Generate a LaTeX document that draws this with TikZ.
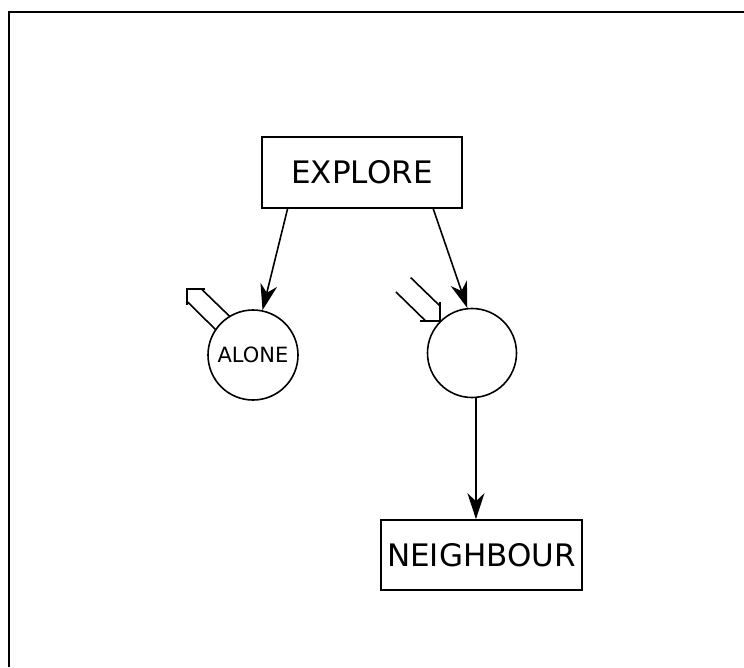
\documentclass[tikz,border=0pt]{standalone}
\usepackage{fontspec}
\setmainfont{DejaVu Sans}
\usetikzlibrary{arrows.meta}
\begin{document}
\begin{tikzpicture}[x=1pt,y=-1pt,
  line width=1.6pt,
  boxnode/.style={draw,rectangle,inner sep=0pt,font=\fontsize{31}{36}\selectfont},
  statenode/.style={draw,circle,inner sep=0pt,font=\fontsize{21}{24}\selectfont},
  conn/.style={-{Stealth[length=26pt,width=17pt,inset=8pt]},line width=1.6pt},
  hollow/.style={line width=1.6pt}]
\useasboundingbox (0,0) rectangle (744,667);
\draw[line width=2pt] (9,667) -- (9,11.5) -- (744,11.5);
\node[boxnode,minimum width=200pt,minimum height=71pt] (explore) at (362,172.5) {EXPLORE};
\node[statenode,minimum size=90pt] (alone) at (253,355) {ALONE};
\node[statenode,minimum size=89pt] (c) at (472,353) {};
\node[boxnode,minimum width=201pt,minimum height=70pt] (nb) at (481.5,555) {NEIGHBOUR};
\draw[conn] (explore.206.9) -- (alone.78.4);
\draw[conn] (explore.333.1) -- (c.96.5);
\draw[conn] (c.-85) -- (c.-85 |- nb.north);
% outgoing hollow arrow on ALONE
\coordinate (p) at (alone.135);
\draw[hollow] ([shift={(8.8,-6.5)}]p) -- ([shift={(-19.5,-33.9)}]p);
\draw[hollow] ([shift={(-15.2,-33.9)}]p) -- ([shift={(-33.9,-33.9)}]p) -- ([shift={(-33.9,-17.2)}]p);
\draw[hollow] ([shift={(-33.9,-21.5)}]p) -- ([shift={(-5.2,6.8)}]p);
% incoming hollow arrow on the empty state
\coordinate (q) at (c.135);
\draw[hollow] ([shift={(0,-19)}]q) -- (q) -- ([shift={(-20,0)}]q);
\draw[hollow] ([shift={(-29.3,-43.4)}]q) -- ([shift={(-0.7,-15.7)}]q);
\draw[hollow] ([shift={(-44,-29)}]q) -- ([shift={(-15,-0.7)}]q);
\end{tikzpicture}
\end{document}
